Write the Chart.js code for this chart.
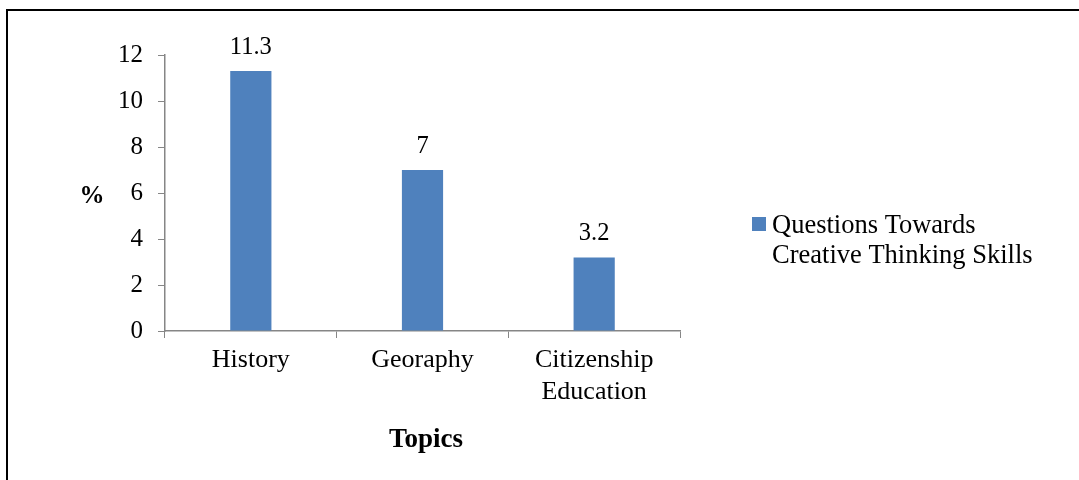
<!DOCTYPE html>
<html>
<head>
<meta charset="utf-8">
<script src="https://cdn.jsdelivr.net/npm/chart.js@4"></script>
<style>
  html, body { margin: 0; padding: 0; background: #fff; }
  #wrap { width: 1079px; height: 480px; position: relative; }
</style>
</head>
<body>
<div id="wrap"><canvas id="chart" width="1079" height="480"></canvas></div>
<script>
const topics = [['History'], ['Georaphy'], ['Citizenship', 'Education']];
const percentages = [11.3, 7, 3.2];
const seriesName = 'Questions Towards Creative Thinking Skills';
const legendLines = ['Questions Towards', 'Creative Thinking Skills'];
const yTicks = [0, 2, 4, 6, 8, 10, 12];

const barColor = '#4F81BD';
const axisColor = '#868686';
const serif = "'Liberation Serif', 'Times New Roman', serif";

// frame, data labels, axis titles and legend
const extras = {
    id: 'extras',
    beforeDraw(chart) {
        const ctx = chart.ctx;
        ctx.save();
        ctx.fillStyle = '#fff';
        ctx.fillRect(0, 0, chart.width, chart.height);
        ctx.strokeStyle = '#000';
        ctx.lineWidth = 2;
        ctx.beginPath();
        ctx.moveTo(7, chart.height);
        ctx.lineTo(7, 10);
        ctx.lineTo(chart.width, 10);
        ctx.stroke();
        ctx.restore();
    },
    afterDraw(chart) {
        const ctx = chart.ctx;
        const area = chart.chartArea;
        ctx.save();
        ctx.fillStyle = '#000';
        ctx.font = '24.5px ' + serif;
        ctx.textAlign = 'center';
        ctx.textBaseline = 'alphabetic';
        chart.getDatasetMeta(0).data.forEach((bar, i) => {
            ctx.fillText(String(percentages[i]), bar.x, bar.y - 17);
        });

        ctx.font = 'bold 27px ' + serif;
        ctx.fillText('Topics', 426, 447);
        ctx.font = 'bold 25px ' + serif;
        ctx.fillText('%', 92, 203);

        // legend
        ctx.fillStyle = barColor;
        ctx.fillRect(752, 217, 14, 14);
        ctx.fillStyle = '#000';
        ctx.font = '26.5px ' + serif;
        ctx.textAlign = 'left';
        legendLines.forEach((line, i) => {
            ctx.fillText(line, 772, 233 + i * 30);
        });
        ctx.restore();
    }
};

new Chart(document.getElementById('chart').getContext('2d'), {
    type: 'bar',
    data: {
        labels: topics,
        datasets: [{
            label: seriesName,
            data: percentages,
            backgroundColor: barColor,
            categoryPercentage: 1,
            barPercentage: 0.24
        }]
    },
    options: {
        responsive: false,
        animation: false,
        layout: { padding: { left: 0, top: 55, right: 399, bottom: 0 } },
        plugins: {
            legend: { display: false },
            tooltip: { enabled: false }
        },
        scales: {
            x: {
                offset: true,
                grid: {
                    offset: true,
                    drawOnChartArea: false,
                    color: axisColor,
                    tickLength: 7
                },
                border: { color: axisColor, width: 1.5 },
                ticks: {
                    color: '#000',
                    padding: 7,
                    font: { family: serif, size: 26, lineHeight: 1.2 }
                },
                afterFit(scale) { scale.height = 149; }
            },
            y: {
                min: 0,
                max: 12,
                afterBuildTicks(scale) { scale.ticks = yTicks.map(v => ({ value: v })); },
                grid: {
                    drawOnChartArea: false,
                    color: axisColor,
                    tickLength: 7
                },
                border: { color: axisColor, width: 1.5 },
                ticks: {
                    color: '#000',
                    padding: 15,
                    font: { family: serif, size: 25 }
                },
                afterFit(scale) { scale.width = 165; }
            }
        }
    },
    plugins: [extras]
});
</script>
</body>
</html>
